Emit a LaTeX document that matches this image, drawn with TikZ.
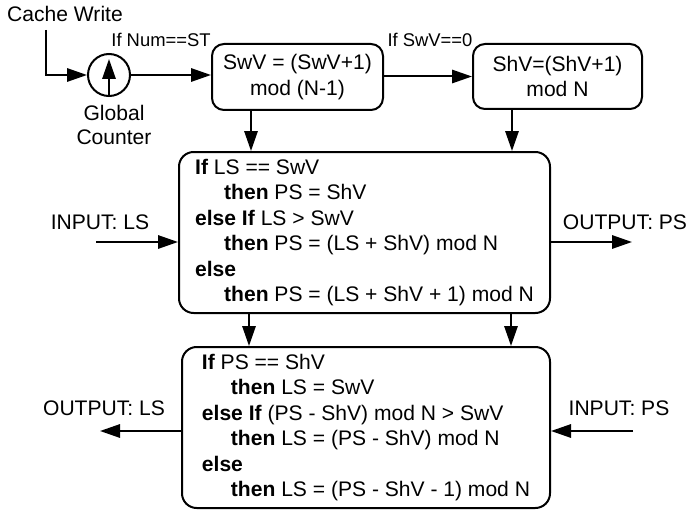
\documentclass[tikz,border=0pt]{standalone}
\usepackage{fontspec}
\setmainfont{Liberation Sans}
\usetikzlibrary{arrows.meta}
\begin{document}
\begin{tikzpicture}[x=0.75pt,y=-0.75pt,
  every node/.style={font=\fontsize{15.8}{19.05}\selectfont},
  conn/.style={line width=1.5pt,-{Triangle[length=15pt,width=10pt]}},
  smallbox/.style={draw,line width=1.5pt,rounded corners=9pt,inner sep=0pt,align=center},
  bigbox/.style={draw,line width=1.5pt,rounded corners=11pt,inner sep=0pt,align=left,minimum width=276pt,minimum height=120.75pt},
  lbl/.style={font=\fontsize{13.8}{16}\selectfont,inner sep=0pt},
  io/.style={inner sep=0pt}]
\useasboundingbox (0,0) rectangle (689,510);
% nodes
\node[io] (cw) at (65,14) {Cache Write};
\node[draw,circle,line width=1.5pt,minimum size=31.5pt,inner sep=0pt] (gc) at (109,75) {};
\node[io,align=center,font=\fontsize{15.8}{17.3}\selectfont] (gclbl) at (114,125) {Global\\Counter};
\node[smallbox,minimum width=128.25pt,minimum height=49.5pt] (sw) at (297.5,77) {SwV = (SwV+1)\\mod (N-1)};
\node[smallbox,minimum width=126.75pt,minimum height=48.75pt] (sh) at (557.5,76.5) {ShV=(ShV+1)\\mod N};
\node[lbl] (l1) at (161,40) {If Num==ST};
\node[lbl] (l2) at (430,40) {If SwV==0};
\node[bigbox,minimum width=278.25pt] (mid) at (364.5,232.5) {\textbf{If} LS == SwV\\
\hspace*{21.75pt}\textbf{then} PS = ShV\\
\textbf{else If} LS > SwV\\
\hspace*{21.75pt}\textbf{then} PS = (LS + ShV) mod N\\
\textbf{else}\\
\hspace*{21.75pt}\textbf{then} PS = (LS + ShV + 1) mod N};
\node[bigbox] (low) at (366,427.5) {\textbf{If} PS == ShV\\
\hspace*{21.75pt}\textbf{then} LS = SwV\\
\textbf{else If} (PS - ShV) mod N > SwV\\
\hspace*{21.75pt}\textbf{then} LS = (PS - ShV) mod N\\
\textbf{else}\\
\hspace*{21.75pt}\textbf{then} LS = (PS - ShV - 1) mod N};
\node[io] (inls) at (100,222) {INPUT: LS};
\node[io] (outps) at (625,222) {OUTPUT: PS};
\node[io] (outls) at (104,408) {OUTPUT: LS};
\node[io] (inps) at (619,408) {INPUT: PS};
% coordinates
\coordinate (cwc) at (46,30);
\coordinate (cwk) at (46,75);
\coordinate (gctip) at (109,59);
\coordinate (inlsS) at (96,242);
\coordinate (outpsE) at (632,242);
\coordinate (outlsE) at (100,431);
\coordinate (inpsS) at (633,431);
% connectors
\draw[conn] (cwc) -- (cwk) -- (gc.west);
\draw[conn] (gc.south) -- (gctip);
\draw[conn] (gc.east) -- (gc.east -| sw.west);
\draw[conn] (sw.east |- sh.west) -- (sh.west);
\draw[conn] (sw.south -| 251,0) -- (mid.north -| 251,0);
\draw[conn] (sh.south -| 512,0) -- (mid.north -| 512,0);
\draw[conn] (mid.south -| 249,0) -- (low.north -| 249,0);
\draw[conn] (mid.south -| 511,0) -- (low.north -| 511,0);
\draw[conn] (inlsS) -- (inlsS -| mid.west);
\draw[conn] (outpsE -| mid.east) -- (outpsE);
\draw[conn] (outlsE -| low.west) -- (outlsE);
\draw[conn] (inpsS) -- (inpsS -| low.east);
\end{tikzpicture}
\end{document}
